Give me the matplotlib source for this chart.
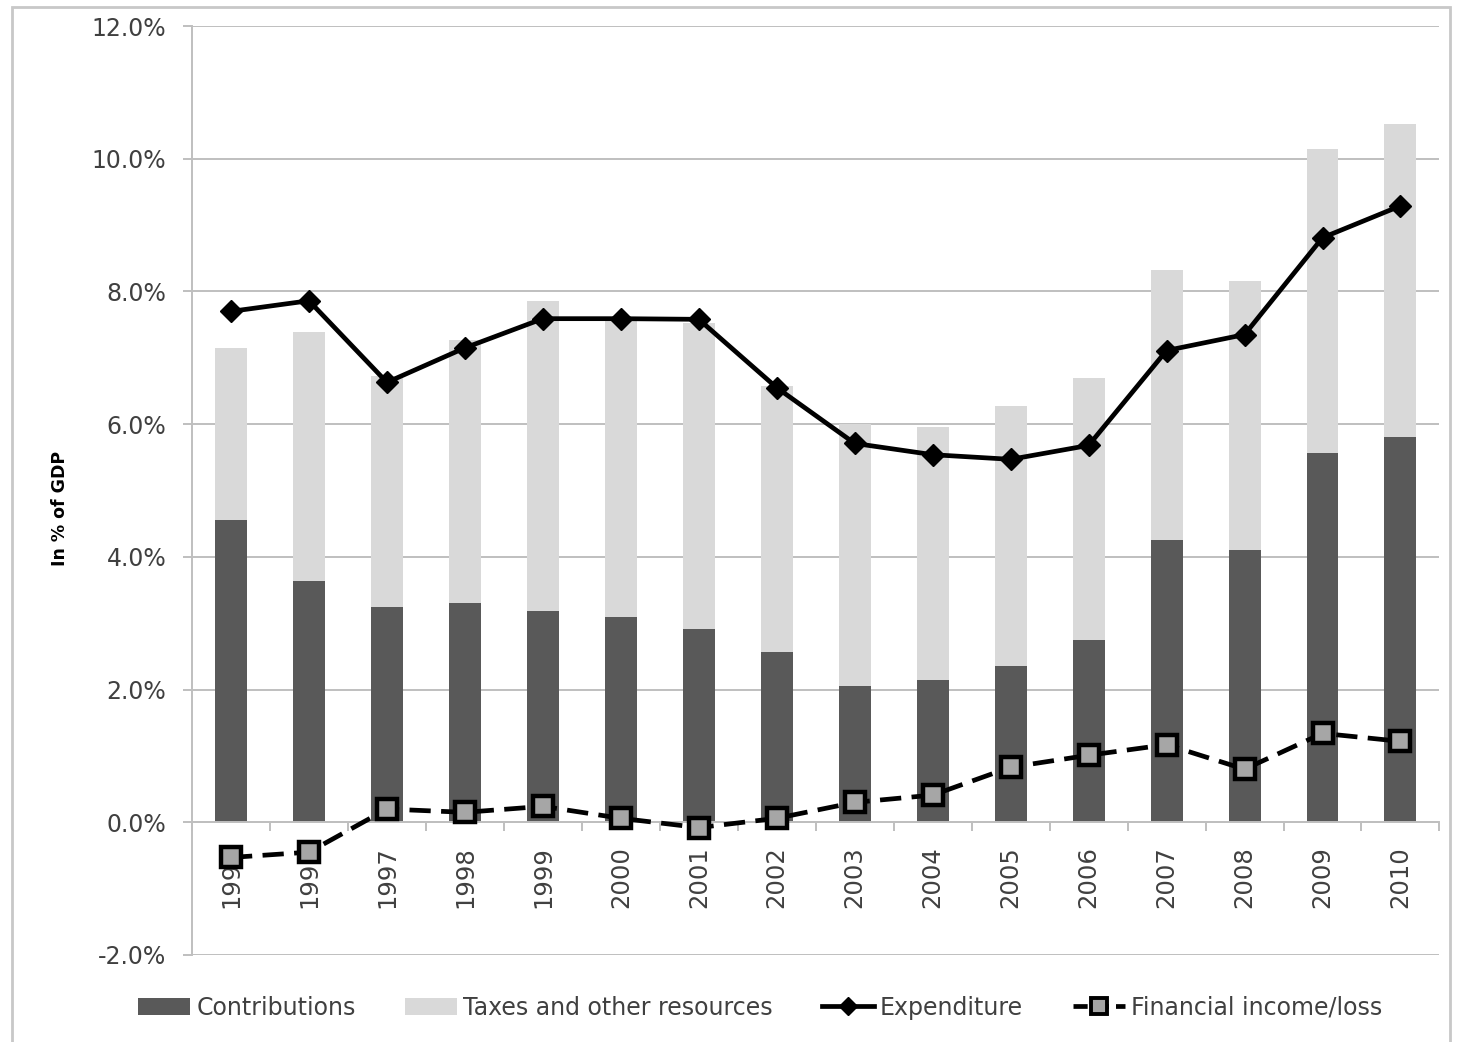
import numpy as np
import matplotlib
matplotlib.use("Agg")
import matplotlib.pyplot as plt
from matplotlib.lines import Line2D
from matplotlib.patches import Patch, Rectangle

plt.rcParams["font.family"] = ["DejaVu Sans"]

# ---------------------------------------------------------------------------
# Data (in % of GDP)
# ---------------------------------------------------------------------------
years = ["1995", "1996", "1997", "1998", "1999", "2000", "2001", "2002",
         "2003", "2004", "2005", "2006", "2007", "2008", "2009", "2010"]
contributions = [4.55, 3.64, 3.25, 3.31, 3.19, 3.09, 2.91, 2.56,
                 2.06, 2.15, 2.36, 2.74, 4.26, 4.11, 5.56, 5.81]
taxes_other = [2.60, 3.75, 3.47, 3.96, 4.66, 4.53, 4.61, 4.02,
               3.94, 3.80, 3.92, 3.95, 4.07, 4.05, 4.58, 4.72]
expenditure = [7.70, 7.86, 6.63, 7.15, 7.59, 7.59, 7.58, 6.55,
               5.71, 5.54, 5.47, 5.68, 7.11, 7.35, 8.81, 9.29]
financial = [-0.53, -0.45, 0.20, 0.15, 0.24, 0.06, -0.08, 0.06,
             0.30, 0.41, 0.83, 1.01, 1.17, 0.80, 1.34, 1.22]

C_CONTRIB = "#595959"
C_TAXES = "#D9D9D9"
C_GRID = "#BFBFBF"
C_TEXT = "#404040"
DASH = (0, (4.5, 2.2))

fig = plt.figure(figsize=(14.59, 10.42), dpi=100)
ax = fig.add_axes([0.1316, 0.0835, 0.855, 0.8915])

x = np.arange(len(years))
ax.bar(x, contributions, width=0.41, color=C_CONTRIB, zorder=2)
ax.bar(x, taxes_other, width=0.41, bottom=contributions, color=C_TAXES, zorder=2)

ax.plot(x, expenditure, color="black", lw=3.4, marker="D", ms=11,
        mfc="black", mec="black", zorder=5, clip_on=False)
ax.plot(x, financial, color="black", lw=3.4, ls=DASH, marker="s",
        ms=15, mfc="#A6A6A6", mec="black", mew=3.2, zorder=6, clip_on=False)

ax.set_xlim(-0.5, len(years) - 0.5)
ax.set_ylim(-2.0, 12.0)
yt = np.arange(-2, 12.1, 2)
ax.set_yticks(yt)
ax.set_yticklabels([f"{v:.1f}%" for v in yt], fontsize=17, color=C_TEXT)
ax.yaxis.grid(True, color=C_GRID, lw=1.4)
ax.set_axisbelow(True)
ax.tick_params(axis="y", length=6.5, color=C_GRID, width=1.4, pad=12)

# category axis crosses at zero, separators between years
ax.spines["bottom"].set_position(("data", 0))
ax.spines["bottom"].set_color(C_GRID)
ax.spines["bottom"].set_linewidth(1.4)
ax.spines["left"].set_color(C_GRID)
ax.spines["left"].set_linewidth(1.4)
for s in ("top", "right"):
    ax.spines[s].set_visible(False)
ax.set_xticks(x)
ax.set_xticklabels(years, rotation=90, fontsize=17.5, color=C_TEXT)
ax.set_xticks(np.arange(-0.5, len(years)), minor=True)
ax.tick_params(axis="x", which="major", length=0, pad=17)
ax.tick_params(axis="x", which="minor", length=6.5, color=C_GRID, width=1.4)

ax.set_ylabel("In % of GDP", fontsize=12.5, fontweight="bold", color="black")
ax.yaxis.set_label_coords(-0.099, 0.481)

handles = [
    Patch(facecolor=C_CONTRIB, label="Contributions"),
    Patch(facecolor=C_TAXES, label="Taxes and other resources"),
    Line2D([], [], color="black", lw=3.4, marker="D", ms=9, label="Expenditure"),
    Line2D([], [], color="black", lw=3.4, ls=(0, (3, 1.5)), marker="s", ms=12,
           mfc="#A6A6A6", mec="black", mew=2.8, label="Financial income/loss"),
]
fig.legend(handles=handles, loc="center", bbox_to_anchor=(0.521, 0.033),
           ncol=4, frameon=False, fontsize=17, handlelength=2.2,
           handleheight=0.7, handletextpad=0.25, columnspacing=2.1,
           labelcolor=C_TEXT)

# outer chart frame
fig.patches.append(Rectangle((0.008, -0.01), 0.986, 1.003,
                             transform=fig.transFigure, fill=False,
                             edgecolor="#C8C8C8", lw=2))

fig.savefig("out.png", dpi=100)
